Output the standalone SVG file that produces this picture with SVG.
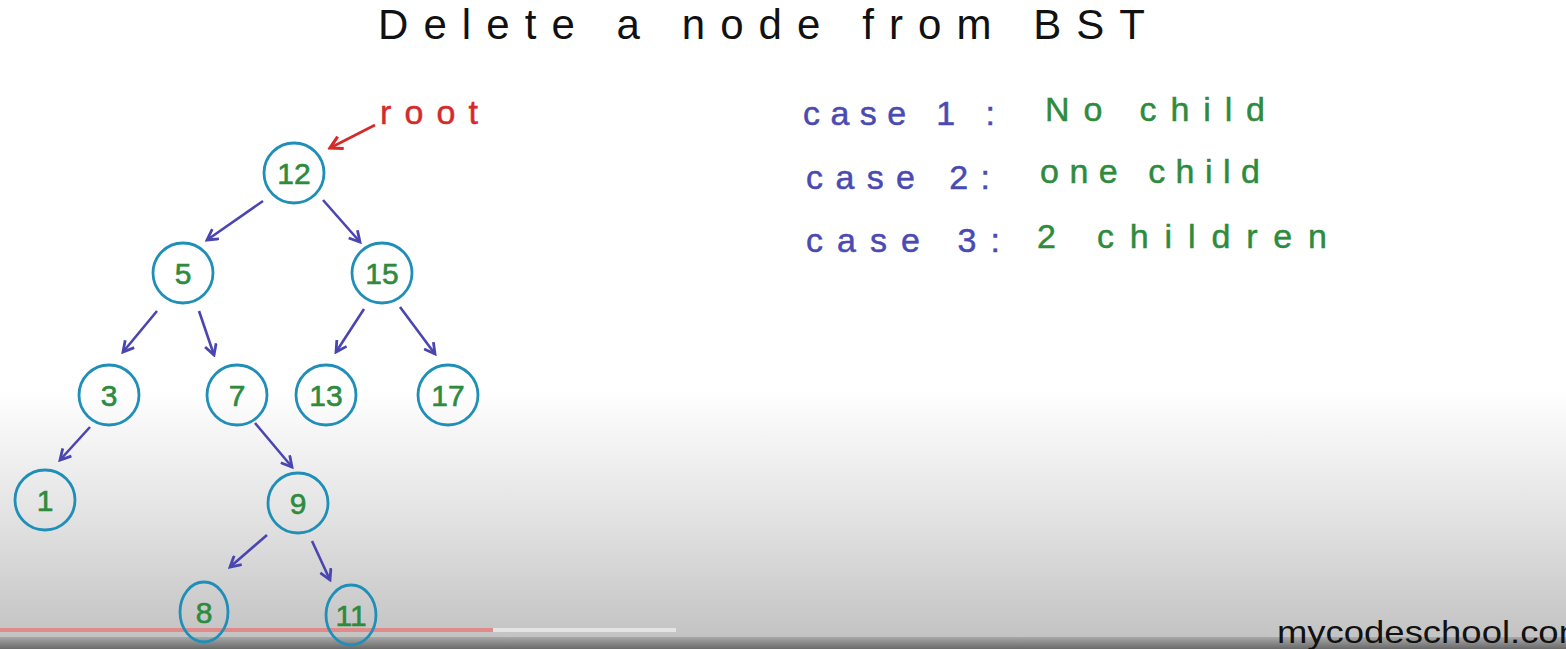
<svg xmlns="http://www.w3.org/2000/svg" width="1566" height="649" viewBox="0 0 1566 649">
<defs>
<linearGradient id="bg" x1="0" y1="0" x2="0" y2="1">
<stop offset="0" stop-color="#ffffff"/>
<stop offset="0.6" stop-color="#ffffff"/>
<stop offset="0.8" stop-color="#e2e2e2"/>
<stop offset="1" stop-color="#c0c0c0"/>
</linearGradient>
<linearGradient id="bot" x1="0" y1="0" x2="0" y2="1">
<stop offset="0" stop-color="#a8a8a8"/>
<stop offset="1" stop-color="#6a6a6a"/>
</linearGradient>
<marker id="ah" viewBox="0 0 12 12" refX="10" refY="6" markerWidth="14" markerHeight="14" markerUnits="userSpaceOnUse" orient="auto">
<path d="M1,1 L10,6 L1,11" fill="none" stroke="#4a45b0" stroke-width="2.4"/>
</marker>
<marker id="ahr" viewBox="0 0 12 12" refX="10" refY="6" markerWidth="16" markerHeight="16" markerUnits="userSpaceOnUse" orient="auto">
<path d="M1,1 L10,6 L1,11" fill="none" stroke="#d42a2a" stroke-width="2.4"/>
</marker>
</defs>
<style>
.node circle, .node ellipse { fill: none; stroke: #1f8fb8; stroke-width: 2.8; }
.node text { font-family: "Liberation Sans", Arial, sans-serif; font-size: 30px; fill: #2e8b3e; stroke: #2e8b3e; stroke-width: 0.6; text-anchor: middle; }
.edge { stroke: #4a45b0; stroke-width: 2.6; fill: none; marker-end: url(#ah); }
.case { font-family: "Liberation Sans", Arial, sans-serif; font-size: 34px; fill: #4a4ab2; stroke: #4a4ab2; stroke-width: 0.5; }
.val { font-family: "Liberation Sans", Arial, sans-serif; font-size: 34px; fill: #2e8b3e; stroke: #2e8b3e; stroke-width: 0.5; }
.title { font-family: "Liberation Sans", Arial, sans-serif; font-size: 42px; fill: #111; }
</style>
<rect x="0" y="0" width="1566" height="649" fill="url(#bg)"/>
<rect x="0" y="637" width="1566" height="12" fill="url(#bot)"/>
<rect x="0" y="628" width="493" height="4" fill="#e08a8a"/>
<rect x="493" y="628" width="183" height="4" fill="#e4e4e4"/>

<text class="title" x="378" y="39" textLength="767" lengthAdjust="spacing">Delete a node from BST</text>

<text x="380" y="124" font-family="Liberation Sans, Arial, sans-serif" font-size="34" fill="#d42a2a" stroke="#d42a2a" stroke-width="0.5" textLength="98" lengthAdjust="spacing">root</text>

<text class="case" x="803" y="125" textLength="192" lengthAdjust="spacing">case 1 :</text>
<text class="val" x="1045" y="121" textLength="220" lengthAdjust="spacing">No child</text>
<text class="case" x="806" y="189" textLength="184" lengthAdjust="spacing">case 2:</text>
<text class="val" x="1040" y="183" textLength="220" lengthAdjust="spacing">one child</text>
<text class="case" x="806" y="252" textLength="194" lengthAdjust="spacing">case 3:</text>
<text class="val" x="1037" y="248" textLength="290" lengthAdjust="spacing">2 children</text>

<text x="1277" y="643" font-family="Liberation Sans, Arial, sans-serif" font-size="32" fill="#111" textLength="312" lengthAdjust="spacingAndGlyphs">mycodeschool.com</text>

<g id="connectors">
<path d="M375,125 L330,148" stroke="#d42a2a" stroke-width="2.6" fill="none" marker-end="url(#ahr)"/>
<path class="edge" d="M263,201 L207,240"/>
<path class="edge" d="M323,200 L360,242"/>
<path class="edge" d="M157,311 L123,352"/>
<path class="edge" d="M199,311 L214,355"/>
<path class="edge" d="M364,309 L336,352"/>
<path class="edge" d="M400,307 L435,354"/>
<path class="edge" d="M90,427 L60,460"/>
<path class="edge" d="M255,423 L292,467"/>
<path class="edge" d="M267,535 L230,567"/>
<path class="edge" d="M312,541 L330,580"/>
</g>

<g id="n12" class="node"><circle cx="294" cy="173" r="30"/><text x="294" y="184">12</text></g>
<g id="n5" class="node"><circle cx="183" cy="273" r="30"/><text x="183" y="284">5</text></g>
<g id="n15" class="node"><circle cx="382" cy="273" r="30"/><text x="382" y="284">15</text></g>
<g id="n3" class="node"><circle cx="109" cy="395" r="30"/><text x="109" y="406">3</text></g>
<g id="n7" class="node"><circle cx="237" cy="395" r="30"/><text x="237" y="406">7</text></g>
<g id="n13" class="node"><circle cx="326" cy="395" r="30"/><text x="326" y="406">13</text></g>
<g id="n17" class="node"><circle cx="448" cy="395" r="30"/><text x="448" y="406">17</text></g>
<g id="n1" class="node"><circle cx="45" cy="500" r="30"/><text x="45" y="511">1</text></g>
<g id="n9" class="node"><circle cx="298" cy="503" r="30"/><text x="298" y="514">9</text></g>
<g id="n8" class="node"><ellipse cx="204" cy="612" rx="24" ry="30"/><text x="204" y="623">8</text></g>
<g id="n11" class="node"><ellipse cx="351" cy="615" rx="25" ry="30"/><text x="351" y="626">11</text></g>
</svg>
